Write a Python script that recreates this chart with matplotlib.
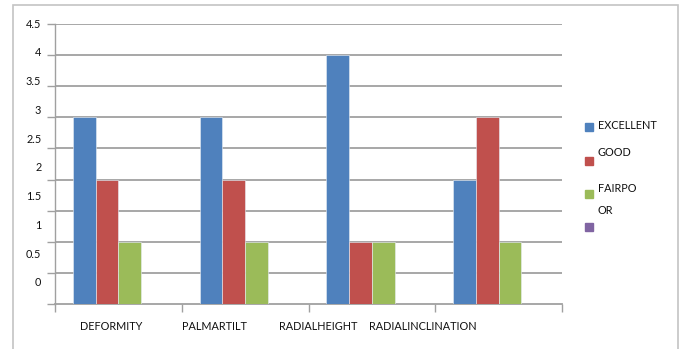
import matplotlib
matplotlib.use("Agg")
import matplotlib.pyplot as plt
from matplotlib.patches import Rectangle
import numpy as np

plt.rcParams["font.family"] = ["Lato", "DejaVu Sans"]

# data
categories = ["DEFORMITY", "PALMARTILT", "RADIALHEIGHT", "RADIALINCLINATION"]
series_names = ["EXCELLENT", "GOOD", "FAIRPO\nOR", ""]
excellent = [3, 3, 4, 2]
good = [2, 2, 1, 3]
fair_poor = [1, 1, 1, 1]
fourth = [0, 0, 0, 0]
y_ticks = [0, 0.5, 1, 1.5, 2, 2.5, 3, 3.5, 4, 4.5]

colors = ["#4F81BD", "#C0504D", "#9BBB59", "#8064A2"]
values = [excellent, good, fair_poor, fourth]

W, H = 682, 349
fig = plt.figure(figsize=(W / 100, H / 100), dpi=100)
ax = fig.add_axes([55 / W, (H - 304) / H, (562 - 55) / W, (304 - 24) / H])

x = np.arange(len(categories))
bw = 0.179
for i, (vals, c) in enumerate(zip(values, colors)):
    ax.bar(x + (i - 1.5) * bw, vals, width=bw, color=c, zorder=3,
           edgecolor="#e8eef6", linewidth=0.4)

ax.set_xlim(-0.5, len(categories) - 0.5)
ax.set_ylim(0, 4.5)

# gridlines
for v in y_ticks[1:]:
    ax.axhline(v, color="#a0a0a0", lw=1.3, zorder=1)

for s in ["top", "right"]:
    ax.spines[s].set_visible(False)
ax.spines["left"].set_color("#a0a0a0")
ax.spines["bottom"].set_color("#a0a0a0")
ax.spines["left"].set_linewidth(1.0)
ax.spines["bottom"].set_linewidth(1.3)

ax.set_yticks(y_ticks)
ax.set_yticklabels([])
ax.set_xticks(np.arange(len(categories) + 1) - 0.5)
ax.set_xticklabels([])
ax.tick_params(axis="both", length=6, width=1, color="#a0a0a0", direction="out")

txt = dict(fontsize=7.8, color="#111111")

# y labels (offset the way the original renders them)
yt = ax.get_yaxis_transform()
for v in y_ticks:
    ax.text(-0.027, 0.34 + v * 0.924, f"{v:g}", transform=yt, ha="right",
            va="center", clip_on=False, **txt)

# category labels
xt = ax.get_xaxis_transform()
for i, name in enumerate(categories):
    ax.text(i * 0.82 - 0.06, -0.079, name, transform=xt, ha="center",
            va="center", clip_on=False, **txt)

# legend
mark_y = [127, 161, 194, 227]
text_y = [126, 152, 188, 210]
for c, my, ty, name in zip(colors, mark_y, text_y, series_names):
    fig.patches.append(Rectangle((585 / W, (H - my - 4) / H), 8 / W, 8 / H,
                                 transform=fig.transFigure, color=c))
    if name:
        for k, p in enumerate(name.split("\n")):
            fig.text(598 / W, (H - ty - k * 22) / H, p, ha="left",
                     va="center", **txt)

# chart frame
fig.patches.append(Rectangle((13 / W, -0.05), (678 - 13) / W, (H - 5) / H + 0.05,
                             transform=fig.transFigure, fill=False,
                             edgecolor="#c4c4c4", lw=1.2))

fig.savefig("out.png", dpi=100)
